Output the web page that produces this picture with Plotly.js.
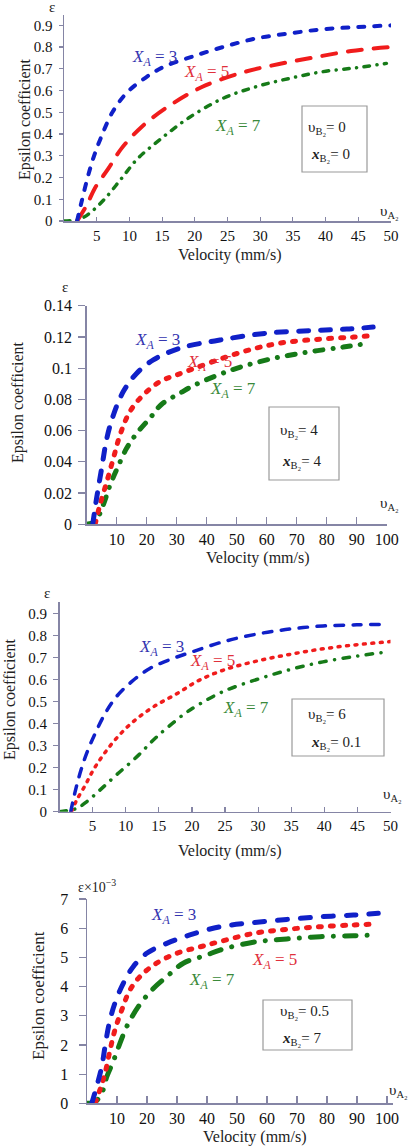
<!DOCTYPE html>
<html>
<head>
<meta charset="utf-8">
<script src="https://cdn.plot.ly/plotly-3.0.1.min.js"></script>
<style>
  html, body { margin: 0; padding: 0; background: #fff; }
  #chart { width: 410px; height: 1148px; }
  .scatterlayer .js-line { stroke-linecap: round !important; }
</style>
</head>
<body>
<div id="chart"></div>
<script>
// ---- Panel 1: vB2 = 0, xB2 = 0 (velocity 0..50 mm/s) ----
const p1_xa3_v = [2, 2.7, 3.7, 4.6, 5.6, 7.4, 9.6, 12.5, 15.3, 19.5, 24.3, 29.4, 34.5, 39.6, 44.7, 50];
const p1_xa3_e = [0, 0.09, 0.21, 0.30, 0.38, 0.50, 0.59, 0.66, 0.71, 0.755, 0.80, 0.84, 0.863, 0.882, 0.892, 0.90];
const p1_xa5_v = [2, 3.5, 4.7, 6.8, 8.8, 11.9, 15.9, 21, 27.4, 32.9, 38.3, 43.9, 50];
const p1_xa5_e = [0, 0.074, 0.15, 0.242, 0.334, 0.434, 0.526, 0.615, 0.684, 0.722, 0.753, 0.782, 0.80];
const p1_xa7_v = [0, 2.5, 4.2, 6.3, 8.8, 11.3, 14.9, 19.1, 24.3, 29.4, 34.5, 39.6, 44.7, 49.3];
const p1_xa7_e = [0, 0.01, 0.043, 0.104, 0.196, 0.288, 0.38, 0.475, 0.564, 0.618, 0.656, 0.687, 0.705, 0.725];

// ---- Panel 2: vB2 = 4, xB2 = 4 (velocity 0..100 mm/s) ----
const p2_xa3_v = [2, 3.3, 5, 6.7, 8.9, 12.2, 16.7, 22.2, 31.1, 44.4, 60, 75.5, 86.7, 95.5];
const p2_xa3_e = [0, 0.0167, 0.036, 0.055, 0.070, 0.085, 0.0968, 0.1053, 0.1128, 0.118, 0.1224, 0.1241, 0.125, 0.1263];
const p2_xa5_v = [2.8, 4.4, 6.7, 8.9, 11.1, 14.4, 18.9, 24.4, 30, 52.2, 64.4, 77.8, 88.9, 95.5];
const p2_xa5_e = [0, 0.0124, 0.0273, 0.0423, 0.0572, 0.0722, 0.0829, 0.0914, 0.0957, 0.1106, 0.116, 0.1186, 0.1199, 0.1209];
const p2_xa7_v = [0, 2.8, 5.5, 7.8, 10.2, 13.3, 16.7, 21.1, 25, 31.1, 36.1, 47.8, 60, 72.8, 85.5, 94.4];
const p2_xa7_e = [0, 0.0017, 0.0124, 0.0252, 0.0359, 0.0487, 0.0583, 0.068, 0.0769, 0.084, 0.0893, 0.0985, 0.1053, 0.110, 0.1135, 0.116];

// ---- Panel 3: vB2 = 6, xB2 = 0.1 (velocity 0..50 mm/s) ----
const p3_xa3_v = [1.7, 2.3, 3.1, 4.1, 5.4, 6.9, 8.6, 10.9, 13.7, 17.2, 20.2, 24.7, 29.8, 34.8, 39.8, 44.9, 48.7];
const p3_xa3_e = [0, 0.083, 0.174, 0.265, 0.356, 0.446, 0.522, 0.59, 0.651, 0.696, 0.727, 0.771, 0.806, 0.829, 0.843, 0.848, 0.85];
const p3_xa5_v = [1.8, 2.6, 3.9, 5.1, 6.6, 8.6, 11.1, 14.2, 17.7, 21, 25, 30, 35, 40, 45, 50];
const p3_xa5_e = [0, 0.053, 0.121, 0.189, 0.257, 0.333, 0.408, 0.476, 0.535, 0.595, 0.645, 0.685, 0.715, 0.74, 0.758, 0.772];
const p3_xa7_v = [0, 2.6, 4.1, 6.1, 8.6, 11.7, 14.7, 18.7, 20.7, 24.7, 29.8, 34.8, 39.8, 44.9, 49.4];
const p3_xa7_e = [0, 0.015, 0.045, 0.098, 0.167, 0.25, 0.34, 0.44, 0.48, 0.545, 0.60, 0.645, 0.68, 0.706, 0.725];

// ---- Panel 4: vB2 = 0.5, xB2 = 7 (velocity 0..100 mm/s, epsilon in 1e-3) ----
const p4_xa3_v = [1.6, 3.2, 4.9, 6, 7.4, 9.3, 12.1, 15.4, 19.9, 26.6, 34.3, 44.3, 55.4, 66.6, 77.7, 88.8, 97.1];
const p4_xa3_e = [0, 0.57, 1.25, 1.94, 2.74, 3.43, 4.11, 4.68, 5.14, 5.48, 5.77, 6.05, 6.19, 6.30, 6.39, 6.45, 6.51];
const p4_xa5_v = [2.7, 4.3, 6, 7.7, 9.3, 11.6, 14.3, 18.2, 23.2, 29.9, 37.7, 44.3, 55.4, 66.6, 77.7, 88.8, 96];
const p4_xa5_e = [0, 0.46, 1.03, 1.83, 2.51, 3.2, 3.88, 4.40, 4.80, 5.14, 5.36, 5.54, 5.82, 5.96, 6.05, 6.11, 6.14];
const p4_xa7_v = [0, 2.7, 4.9, 6.6, 8.8, 11, 13.2, 17.1, 21.6, 26.6, 32.1, 39.9, 44.3, 55.4, 66.6, 77.7, 88.8, 96.6];
const p4_xa7_e = [0, 0.05, 0.34, 0.91, 1.45, 2.06, 2.62, 3.31, 3.88, 4.34, 4.80, 5.08, 5.25, 5.52, 5.63, 5.71, 5.74, 5.77];

// Tick values
const ticks50 = [5, 10, 15, 20, 25, 30, 35, 40, 45, 50];
const ticks100 = [10, 20, 30, 40, 50, 60, 70, 80, 90, 100];
const epsTicks09 = [0, 0.1, 0.2, 0.3, 0.4, 0.5, 0.6, 0.7, 0.8, 0.9];
const epsTicks014 = [0, 0.02, 0.04, 0.06, 0.08, 0.1, 0.12, 0.14];
const epsTicks7 = [0, 1, 2, 3, 4, 5, 6, 7];

const BLUE = '#1020c8', RED = '#f01c1c', GREEN = '#167a18';
const LBLUE = '#3535b0', LRED = '#e0303c', LGREEN = '#3a8a3a';
const SERIF = 'Liberation Serif';
const AXC = '#8585a5';

const W = 410, H = 1148;
const px = v => v / W;
const py = v => 1 - v / H;

function curve(xs, ys, color, width, dash, ax) {
  return {
    x: xs, y: ys, type: 'scatter', mode: 'lines', cliponaxis: false,
    xaxis: 'x' + ax, yaxis: 'y' + ax,
    line: { color: color, width: width, dash: dash, shape: 'spline', smoothing: 1 },
    hoverinfo: 'skip', showlegend: false
  };
}

const data = [
  curve(p1_xa7_v, p1_xa7_e, GREEN, 3.5, '5.5px,7.5px,0.1px,7.5px', ''),
  curve(p1_xa5_v, p1_xa5_e, RED, 4, '14px,12px', ''),
  curve(p1_xa3_v, p1_xa3_e, BLUE, 4, '6px,10px', ''),

  curve(p2_xa7_v, p2_xa7_e, GREEN, 5, '8px,10px,0.1px,10px', '2'),
  curve(p2_xa5_v, p2_xa5_e, RED, 5, '3px,9px', '2'),
  curve(p2_xa3_v, p2_xa3_e, BLUE, 5, '10px,12px', '2'),

  curve(p3_xa7_v, p3_xa7_e, GREEN, 3.5, '6.5px,8.5px,0.1px,8.5px', '3'),
  curve(p3_xa5_v, p3_xa5_e, RED, 3.5, '2px,6.5px', '3'),
  curve(p3_xa3_v, p3_xa3_e, BLUE, 3.5, '8.5px,9.5px', '3'),

  curve(p4_xa7_v, p4_xa7_e, GREEN, 5, '12px,11px,0.1px,11px', '4'),
  curve(p4_xa5_v, p4_xa5_e, RED, 5, '3px,9px', '4'),
  curve(p4_xa3_v, p4_xa3_e, BLUE, 5, '10px,13px', '4')
];

function xAxis(anchor, left, right, range, vals, tlen, fs) {
  return {
    anchor: anchor, domain: [px(left), px(right)], range: range,
    tickmode: 'array', tickvals: vals, ticktext: vals.map(String),
    ticks: 'inside', ticklen: tlen, tickwidth: 1.2, tickcolor: AXC,
    showline: true, linecolor: AXC, linewidth: 1.5,
    showgrid: false, zeroline: false, fixedrange: true,
    tickfont: { family: SERIF, size: fs, color: '#111' }
  };
}
function yAxis(anchor, bottom, top, range, vals, tlen, stand, fs) {
  return {
    anchor: anchor, domain: [py(bottom), py(top)], range: range,
    tickmode: 'array', tickvals: vals, ticktext: vals.map(String),
    ticks: 'outside', ticklen: tlen, tickwidth: 1.2, tickcolor: AXC,
    ticklabelstandoff: stand,
    showline: true, linecolor: AXC, linewidth: 1.5,
    showgrid: false, zeroline: false, fixedrange: true,
    tickfont: { family: SERIF, size: fs, color: '#111' }
  };
}

function txt(text, x, y, size, color, opts) {
  return Object.assign({
    text: text, xref: 'paper', yref: 'paper', x: px(x), y: py(y),
    xanchor: 'left', yanchor: 'middle', showarrow: false,
    font: { family: SERIF, size: size, color: color }
  }, opts || {});
}
function ctr(text, x, y, size, opts) {
  return txt(text, x, y, size, '#222', Object.assign({ xanchor: 'center' }, opts || {}));
}
const xaLabel = n => '<i>X</i><sub><i>A</i></sub> = ' + n;
const vB = n => '\u03c5<sub>B\u2082</sub>= ' + n;
const xB = n => '<b><i>x</i></b><sub>B\u2082</sub>= ' + n;
const vA = '\u03c5<sub>A\u2082</sub>';
const yTitle = 'Epsilon coefficient';
const xTitle = 'Velocity (mm/s)';

const annotations = [
  // panel 1
  ctr('\u03b5', 52, 7, 15),
  txt(vA, 378, 212, 15, '#222'),
  ctr(yTitle, 25, 119, 16, { textangle: -90 }),
  ctr(xTitle, 230, 255, 16),
  txt(xaLabel(3), 130, 58, 17, LBLUE),
  txt(xaLabel(5), 182, 73, 17, LRED),
  txt(xaLabel(7), 213, 127, 17, LGREEN),
  txt(vB(0), 306, 128, 15, '#222'),
  txt(xB(0), 309, 155, 15, '#222'),

  // panel 2
  ctr('\u03b5', 65, 287, 15),
  txt(vA, 378, 504, 15, '#222'),
  ctr(yTitle, 18, 402, 16, { textangle: -90 }),
  ctr(xTitle, 258, 558, 16),
  txt(xaLabel(3), 133, 341, 17, LBLUE),
  txt(xaLabel(5), 185, 363, 17, LRED),
  txt(xaLabel(7), 208, 390, 17, LGREEN),
  txt(vB(4), 278, 431, 15, '#222'),
  txt(xB(4), 280, 462, 15, '#222'),

  // panel 3
  ctr('\u03b5', 47, 593, 15),
  txt(vA, 381, 795, 15, '#222'),
  ctr(yTitle, 10, 699, 16, { textangle: -90 }),
  ctr(xTitle, 230, 851, 16),
  txt(xaLabel(3), 137, 648, 17, LBLUE),
  txt(xaLabel(5), 188, 662, 17, LRED),
  txt(xaLabel(7), 221, 709, 17, LGREEN),
  txt(vB(6), 306, 715, 15, '#222'),
  txt(xB('0.1'), 309, 743, 15, '#222'),

  // panel 4
  txt('\u03b5\u00d710<sup>\u22123</sup>', 76, 886, 14, '#222'),
  txt(vA, 387, 1091, 15, '#222'),
  ctr(yTitle, 38, 996, 17, { textangle: -90 }),
  ctr(xTitle, 255, 1137, 16),
  txt(xaLabel(3), 149, 916, 17, LBLUE),
  txt(xaLabel(5), 250, 961, 17, LRED),
  txt(xaLabel(7), 187, 981, 17, LGREEN),
  txt(vB('0.5'), 278, 1012, 15, '#222'),
  txt(xB(7), 280, 1039, 15, '#222')
];

function box(l, t, r, b) {
  return { type: 'rect', xref: 'paper', yref: 'paper',
    x0: px(l), x1: px(r), y0: py(b), y1: py(t),
    line: { color: '#9a9a9a', width: 1.2 }, fillcolor: 'rgba(0,0,0,0)' };
}

const layout = {
  width: W, height: H,
  margin: { l: 0, r: 0, t: 0, b: 0 },
  paper_bgcolor: '#fff', plot_bgcolor: 'rgba(0,0,0,0)',
  showlegend: false,
  font: { family: SERIF, color: '#222' },

  xaxis:  xAxis('y',  64, 391, [0, 50], ticks50, 4, 15),
  yaxis:  yAxis('x',  221, 15, [0, 0.9476], epsTicks09, 4, 3, 15),
  xaxis2: xAxis('y2', 86.7, 386.7, [0, 100], ticks100, 7, 16),
  yaxis2: yAxis('x2', 524.3, 305.7, [0, 0.14], epsTicks014, 7, 3, 16),
  xaxis3: xAxis('y3', 59.5, 390.5, [0, 50], ticks50, 5, 15),
  yaxis3: yAxis('x3', 811.7, 601.7, [0, 0.953], epsTicks09, 5, 3, 15),
  xaxis4: xAxis('y4', 87, 393, [0, 102], ticks100, 7, 16),
  yaxis4: yAxis('x4', 1103.3, 899, [0, 7], epsTicks7, 7, 7, 16),

  shapes: [
    box(302, 106, 367, 172),
    box(269, 407, 339, 480),
    box(292, 699, 384, 756),
    box(263, 1000, 352, 1050)
  ],
  annotations: annotations
};

Plotly.newPlot('chart', data, layout, { staticPlot: true, displayModeBar: false });
</script>
</body>
</html>
